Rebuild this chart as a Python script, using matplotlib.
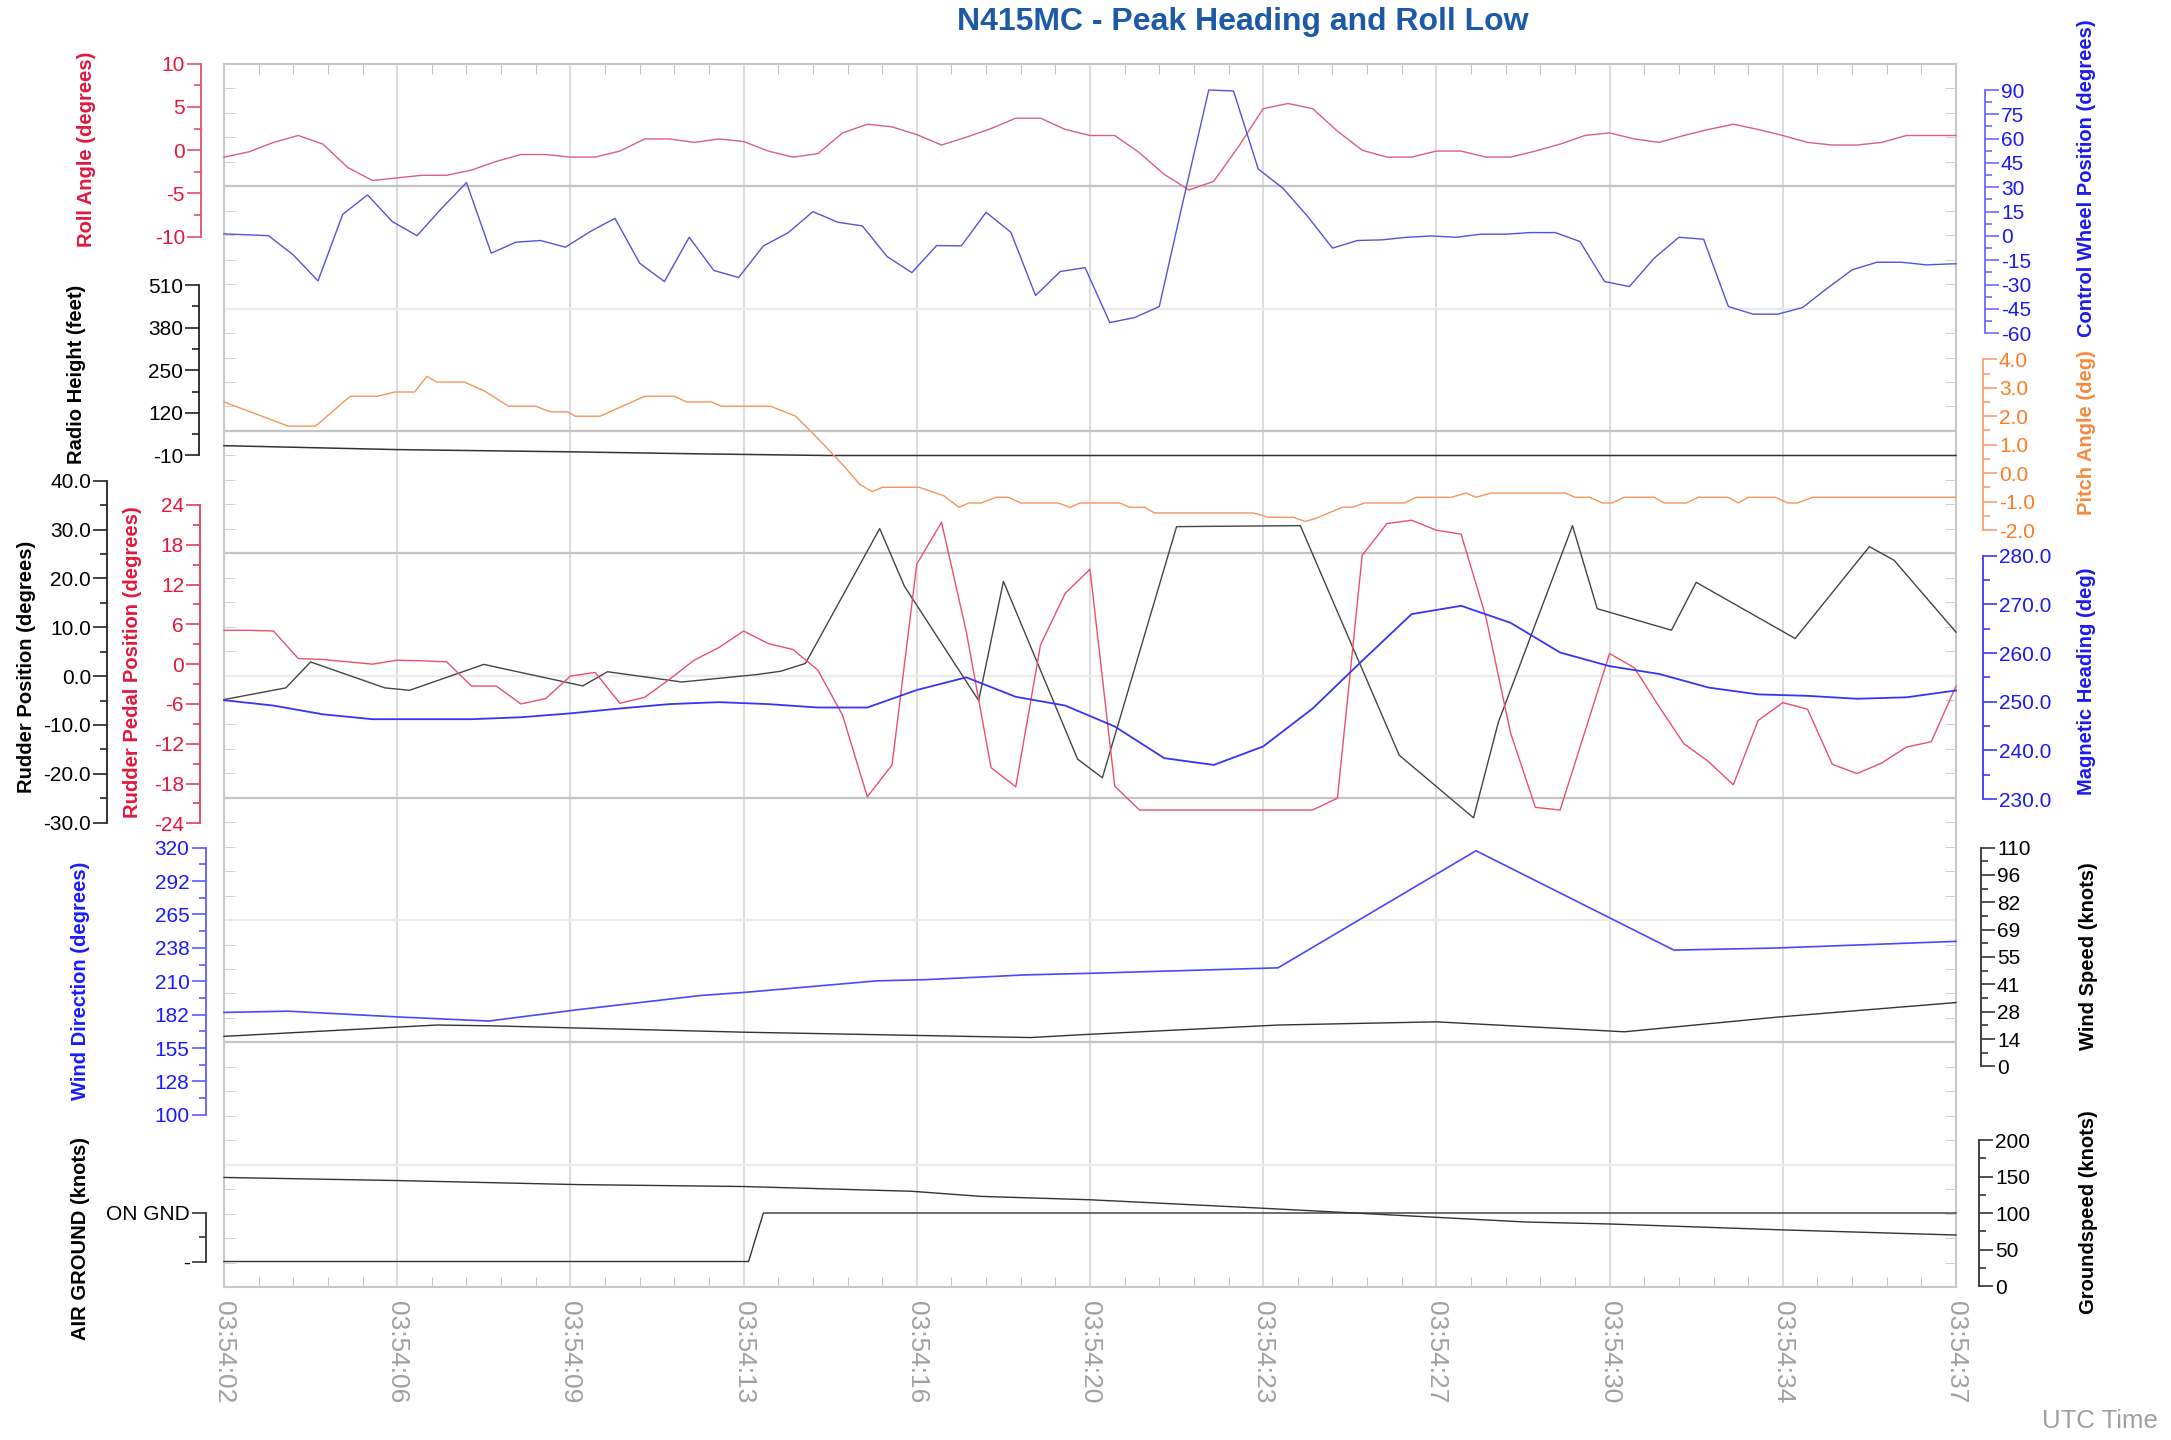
import numpy as np
import matplotlib
matplotlib.use("Agg")
import matplotlib.pyplot as plt
from matplotlib.ticker import AutoMinorLocator, MultipleLocator, FormatStrFormatter

plt.rcParams['font.family'] = ['Liberation Sans', 'DejaVu Sans']
plt.rcParams['axes.unicode_minus'] = False

# ---- data (seconds after 03:54:02) ----
time_labels = ['03:54:02', '03:54:06', '03:54:09', '03:54:13', '03:54:16', '03:54:20',
               '03:54:23', '03:54:27', '03:54:30', '03:54:34', '03:54:37']

t_half = np.arange(0, 35.01, 0.5)
roll_deg = [-0.8, -0.2, 0.9, 1.7, 0.7, -2.0, -3.5, -3.2, -2.9, -2.9,
            -2.3, -1.3, -0.5, -0.5, -0.8, -0.8, -0.1, 1.3, 1.3, 0.9,
            1.3, 1.0, -0.1, -0.8, -0.4, 2.0, 3.0, 2.7, 1.8, 0.6,
            1.5, 2.5, 3.7, 3.7, 2.4, 1.7, 1.7, -0.3, -2.8, -4.6,
            -3.6, 0.4, 4.8, 5.4, 4.8, 2.2, 0.0, -0.8, -0.8, -0.1,
            -0.1, -0.8, -0.8, -0.1, 0.7, 1.7, 2.0, 1.3, 0.9, 1.7,
            2.4, 3.0, 2.4, 1.7, 0.9, 0.6, 0.6, 0.9, 1.7, 1.7, 1.7]

cw_t = np.r_[0.0, np.arange(0.4, 35.0, 0.5), 35.0]
cw_deg = [1.3, 0.8, 0.2, -11.7, -27.7, 13.4, 25.3, 8.9, 0.2, 17.1,
          32.9, -10.6, -3.8, -2.8, -6.9, 2.7, 10.9, -16.8, -28.1, -0.8,
          -21.3, -25.6, -6.1, 2.0, 15.0, 8.5, 6.2, -12.7, -22.6, -5.9,
          -6.1, 14.6, 2.3, -36.7, -21.9, -19.5, -53.4, -50.3, -43.5, 24.0,
          90.0, 89.4, 41.3, 29.4, 12.0, -7.5, -2.8, -2.4, -0.8, 0.0,
          -0.8, 1.1, 1.1, 2.1, 2.1, -3.4, -28.1, -31.2, -13.7, -0.8,
          -2.0, -43.5, -48.2, -48.2, -44.1, -32.2, -20.9, -16.2, -16.2, -17.8,
          -17.2, -17.2]

radio_t = [0.0, 3.5, 7.1, 9.6, 12.2, 35.0]
radio_ft = [20, 8, 1, -5, -10, -10]

pitch_t = [0.0, 1.3, 1.85, 2.55, 3.1, 3.45, 3.85, 4.1, 4.3, 4.85, 5.25, 5.75, 6.3, 6.6,
           6.95, 7.1, 7.6, 8.5, 9.1, 9.35, 9.85, 10.05, 11.05, 11.55, 11.9, 12.5, 12.85,
           13.1, 13.3, 14.05, 14.55, 14.85, 15.05, 15.3, 15.6, 15.85, 16.1, 16.85, 17.1,
           17.3, 18.1, 18.3, 18.6, 18.8, 20.8, 21.1, 21.6, 21.85, 22.05, 22.6, 22.8, 23.05,
           23.85, 24.1, 24.8, 25.1, 25.3, 25.6, 27.1, 27.3, 27.6, 27.85, 28.05, 28.3, 28.9,
           29.1, 29.55, 29.8, 30.4, 30.6, 30.8, 31.35, 31.6, 31.8, 32.1, 35.0]
pitch_deg = [2.5, 1.65, 1.65, 2.7, 2.7, 2.85, 2.85, 3.4, 3.2, 3.2, 2.9, 2.35, 2.35, 2.15,
             2.15, 2.0, 2.0, 2.7, 2.7, 2.5, 2.5, 2.35, 2.35, 2.0, 1.4, 0.3, -0.4,
             -0.65, -0.5, -0.5, -0.8, -1.2, -1.05, -1.05, -0.85, -0.85, -1.05, -1.05, -1.2,
             -1.05, -1.05, -1.2, -1.2, -1.4, -1.4, -1.55, -1.55, -1.7, -1.6, -1.2, -1.2, -1.05,
             -1.05, -0.85, -0.85, -0.7, -0.85, -0.7, -0.7, -0.85, -0.85, -1.05, -1.05, -0.85, -0.85,
             -1.05, -1.05, -0.85, -0.85, -1.05, -0.85, -0.85, -1.05, -1.05, -0.85, -0.85]

rudder_t = [0.0, 1.25, 1.75, 3.25, 3.75, 5.25, 7.25, 7.75, 9.25, 10.75, 11.25, 11.75,
            13.25, 13.75, 15.25, 15.75, 17.25, 17.75, 19.25, 21.75, 23.75, 25.25, 25.75,
            27.25, 27.75, 29.25, 29.75, 31.75, 33.25, 33.75, 35.0]
rudder_deg = [-4.8, -2.4, 2.9, -2.4, -2.9, 2.4, -2.0, 0.9, -1.2, 0.3, 1.0, 2.6,
              30.2, 18.4, -5.0, 19.4, -17.0, -20.8, 30.6, 30.8, -16.2, -29.0, -9.5,
              30.8, 13.8, 9.4, 19.2, 7.7, 26.5, 23.7, 9.0]

pedal_deg = [5.1, 5.1, 5.0, 0.85, 0.7, 0.35, 0.0, 0.6, 0.5, 0.35,
             -3.3, -3.3, -6.0, -5.2, -1.8, -1.25, -5.9, -5.0, -2.3, 0.6,
             2.5, 5.0, 3.1, 2.2, -0.9, -7.7, -20.0, -15.2, 15.1, 21.4,
             4.9, -15.6, -18.5, 2.9, 10.7, 14.3, -18.4, -22.0, -22.0, -22.0,
             -22.0, -22.0, -22.0, -22.0, -22.0, -20.2, 16.4, 21.2, 21.7, 20.2,
             19.6, 7.1, -10.4, -21.6, -22.0, -10.2, 1.6, -0.55, -6.4, -12.0,
             -14.7, -18.2, -8.5, -5.8, -6.8, -15.1, -16.5, -14.9, -12.5, -11.7,
             -3.3]

t_sec = np.arange(0, 36, 1)
heading_deg = [250.3, 249.2, 247.4, 246.4, 246.4, 246.4, 246.8, 247.6, 248.6, 249.5,
               249.9, 249.5, 248.8, 248.8, 252.4, 255.0, 251.0, 249.2, 244.9, 238.4,
               237.0, 240.8, 248.6, 258.4, 268.0, 269.7, 266.2, 260.1, 257.3, 255.7,
               252.9, 251.5, 251.2, 250.6, 250.9, 252.3]

wdir_t = [0.0, 1.3, 3.55, 5.35, 7.1, 9.65, 10.55, 13.2, 14.2, 16.2, 17.5, 21.3, 25.3, 29.3, 31.35, 35.0]
wdir_deg = [184.3, 185.3, 180.5, 177.2, 186.3, 198.3, 200.9, 210.3, 211.3, 215.2, 216.5,
            221.0, 317.4, 235.6, 237.3, 242.8]
wdir_ticks = ['100', '128', '155', '182', '210', '238', '265', '292', '320']

wspd_t = [0.0, 4.3, 5.4, 10.5, 16.3, 17.3, 21.3, 24.5, 28.3, 31.4, 35.0]
wspd_kt = [15.1, 20.8, 20.4, 17.2, 14.5, 15.9, 20.8, 22.4, 17.4, 24.8, 32.1]
wspd_ticks = ['0', '14', '28', '41', '55', '69', '82', '96', '110']

gs_t = [0.0, 3.55, 7.1, 10.5, 13.9, 15.3, 17.5, 21.0, 24.5, 26.3, 28.0, 31.5, 35.0]
gs_kt = [148.8, 144.5, 139.1, 136.4, 129.9, 122.9, 118.3, 106.7, 94.3, 87.9, 85.2, 77.1, 70.1]

gnd_t = [0.0, 10.6, 10.9, 35.0]
gnd_state = [0, 0, 1, 1]
gnd_ticks = ['-', 'ON GND']

# ---- layout ----
W, H = 2171, 1440
fig = plt.figure(figsize=(W / 100, H / 100), dpi=100)
L, R, T, B = 224, 1956, 64, 1287


def box(top, bot):
    return [L / W, 1 - bot / H, (R - L) / W, (bot - top) / H]


frame = fig.add_axes(box(T, B))
frame.set_xlim(0, 35)
frame.set_ylim(0, 10)
frame.set_xticks(np.arange(0, 35.01, 3.5))
frame.set_xticklabels(time_labels, rotation=270, fontsize=19, color='#a0a0a0')
frame.xaxis.set_minor_locator(MultipleLocator(0.7))
frame.set_yticks([])
frame.yaxis.set_minor_locator(MultipleLocator(0.2))
frame.tick_params(axis='x', which='major', length=0, pad=10)
frame.tick_params(axis='x', which='minor', direction='in', length=7, color='#b8b8b8', top=True)
frame.tick_params(axis='y', which='minor', direction='in', length=8, color='#c8c8c8', right=True)
frame.grid(axis='x', which='major', color='#d6d6d6', lw=1.2)
for y in [9, 7, 6, 4, 2]:
    frame.axhline(y, color='#c4c4c4', lw=1.6)
for y in [8, 5, 3, 1]:
    frame.axhline(y, color='#ebebeb', lw=1.6)
for s in frame.spines.values():
    s.set_color('#c8c8c8')
    s.set_linewidth(1.5)


def trace_axis(top, bot, lim, side, spine_x, tcolor, scolor, ticks, fmt=None, labels=None):
    ax = fig.add_axes(box(top, bot))
    ax.patch.set_visible(False)
    ax.set_xlim(0, 35)
    ax.set_ylim(*lim)
    ax.xaxis.set_visible(False)
    for s in ax.spines.values():
        s.set_visible(False)
    sp = ax.spines[side]
    sp.set_visible(True)
    sp.set_position(('axes', (spine_x - L) / (R - L)))
    sp.set_color(scolor)
    sp.set_linewidth(1.3)
    ax.yaxis.set_ticks_position(side)
    if labels is not None:
        ax.set_yticks(ticks, labels=labels)
    else:
        ax.set_yticks(ticks)
        if fmt:
            ax.yaxis.set_major_formatter(FormatStrFormatter(fmt))
    ax.yaxis.set_minor_locator(AutoMinorLocator(2))
    ax.tick_params(axis='y', which='major', length=10, width=1.2, color=scolor,
                   labelcolor=tcolor, labelsize=15, pad=1.5)
    ax.tick_params(axis='y', which='minor', length=5, width=1.2, color=scolor)
    return ax


def side_label(x, y, text, color):
    fig.text(x / W, 1 - y / H, text, rotation=90, ha='center', va='center',
             color=color, fontsize=14.5, fontweight='bold')


RED, BLUE, ORANGE, BLACK = '#e3173e', '#1a1af0', '#ff7a22', '#000000'

ax = trace_axis(63.7, 236.7, (-10, 10), 'left', 201, RED, '#e05070', [-10, -5, 0, 5, 10])
ax.plot(t_half, roll_deg, color='#d9607e', lw=1.0, clip_on=False)
side_label(86, 149, 'Roll Angle (degrees)', RED)

ax = trace_axis(90, 333.3, (-60, 90), 'right', 1985, BLUE, '#6a6aff', np.arange(-60, 91, 15))
ax.plot(cw_t, cw_deg, color='#5454d8', lw=1.0, clip_on=False)
side_label(2087, 178, 'Control Wheel Position (degrees)', BLUE)

ax = trace_axis(285.2, 455.5, (-10, 510), 'left', 199, BLACK, '#222222', [-10, 120, 250, 380, 510])
ax.plot(radio_t, radio_ft, color='#333333', lw=1.1, clip_on=False)
side_label(77, 374, 'Radio Height (feet)', BLACK)

ax = trace_axis(359.3, 530, (-2, 4), 'right', 1983, ORANGE, '#f8a070', np.arange(-2, 4.1, 1), fmt='%.1f')
ax.plot(pitch_t, pitch_deg, color='#f5955c', lw=1.0, clip_on=False)
side_label(2087, 433, 'Pitch Angle (deg)', '#f58a3c')

ax = trace_axis(480.7, 822.7, (-30, 40), 'left', 107, BLACK, '#222222', np.arange(-30, 41, 10), fmt='%.1f')
ax.plot(rudder_t, rudder_deg, color='#444444', lw=1.0, clip_on=False)
side_label(27, 667, 'Rudder Position (degrees)', BLACK)

ax = trace_axis(505, 823.3, (-24, 24), 'left', 200, RED, '#e04060', np.arange(-24, 25, 6))
ax.plot(t_half, pedal_deg, color='#e8506e', lw=1.0, clip_on=False)
side_label(133, 662, 'Rudder Pedal Position (degrees)', RED)

ax = trace_axis(555.7, 799, (230, 280), 'right', 1983, BLUE, '#3a3aff', np.arange(230, 281, 10), fmt='%.1f')
ax.plot(t_sec, heading_deg, color='#3535f5', lw=1.3, clip_on=False)
side_label(2087, 681, 'Magnetic Heading (deg)', BLUE)

ax = trace_axis(847.6, 1114.8, (100, 320), 'left', 205.5, '#1a1aff', '#5a5aff',
                np.linspace(100, 320, 9), labels=wdir_ticks)
ax.plot(wdir_t, wdir_deg, color='#4848ff', lw=1.2, clip_on=False)
side_label(81, 981, 'Wind Direction (degrees)', '#1a1aff')

ax = trace_axis(847.6, 1066.4, (0, 110), 'right', 1981, BLACK, '#333333',
                np.linspace(0, 110, 9), labels=wspd_ticks)
ax.plot(wspd_t, wspd_kt, color='#333333', lw=1.0, clip_on=False)
side_label(2089, 956, 'Wind Speed (knots)', BLACK)

ax = trace_axis(1213, 1261.5, (0, 1), 'left', 205.5, BLACK, '#333333', [0, 1], labels=gnd_ticks)
ax.plot(gnd_t, gnd_state, color='#333333', lw=1.0, clip_on=False)
side_label(81, 1238, 'AIR GROUND (knots)', BLACK)

ax = trace_axis(1140, 1286.3, (0, 200), 'right', 1979, BLACK, '#333333', np.arange(0, 201, 50))
ax.plot(gs_t, gs_kt, color='#333333', lw=1.0, clip_on=False)
side_label(2089, 1212, 'Groundspeed (knots)', BLACK)

fig.text(1243 / W, 1 - 22 / H, 'N415MC - Peak Heading and Roll Low', ha='center', va='center',
         fontsize=23, fontweight='bold', color='#1c5aa8')
fig.text(2100 / W, 1 - 1421 / H, 'UTC Time', ha='center', va='center', fontsize=18.5, color='#a0a0a0')

fig.savefig('out.png', dpi=100)
